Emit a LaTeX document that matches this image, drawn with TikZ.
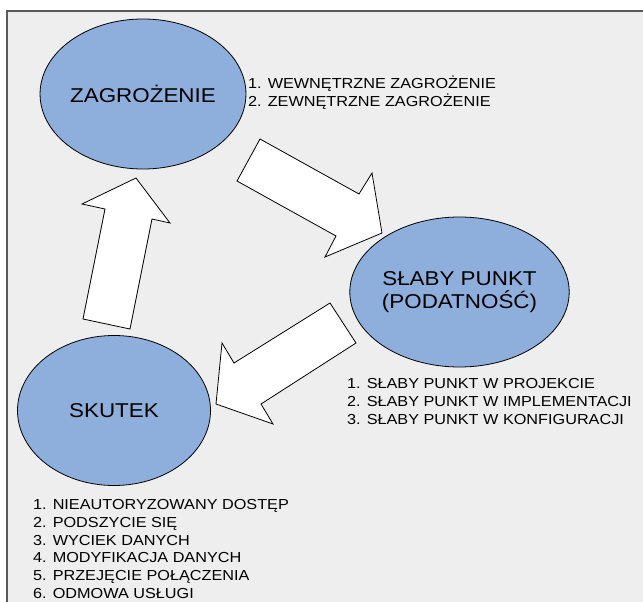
\documentclass[tikz,border=0pt]{standalone}
\usepackage{fontspec}
\setmainfont{Liberation Sans}
\newfontfamily\lblfont{Liberation Sans}[FakeStretch=1.12]
\usepackage{xcolor}
\usepackage{tikz}
\usetikzlibrary{shapes.geometric}
\definecolor{cBack}{HTML}{EEEEEE}
\definecolor{cFrame}{HTML}{5A5A5A}
\definecolor{cBubble}{HTML}{8EAEDC}

\begin{document}
\begin{tikzpicture}[
    x=1pt, y=-1pt,
    bubble/.style={ellipse, draw=black, fill=cBubble, line width=0.8pt,
                   minimum width=193pt, minimum height=150pt, inner sep=0pt,
                   align=center, font=\lblfont\fontsize{20}{23}\selectfont},
    blockarrow/.style={draw=black, fill=white, line width=0.8pt, line join=miter},
    list/.style={anchor=west, align=left, inner sep=0pt,
                 font=\lblfont\fontsize{14.5}{17.7}\selectfont}
]
\clip (0,0) rectangle (643,602);
\useasboundingbox (0,0) rectangle (643,602);

% --- background ---
\fill[white] (0,0) rectangle (643,602);
\draw[cFrame, fill=cBack, line width=1.2pt] (7,11) rectangle (660,620);

% --- cycle ---
\node[bubble] (threat) at (143,94) {ZAGROŻENIE};
\node[bubble] (weak) at (459.5,292) {SŁABY PUNKT\\(PODATNOŚĆ)};
\node[bubble] (effect) at (114,410.5) {SKUTEK};

% --- lists ---
\node[list] (threatlist) at (248,92.5)
  {1. WEWNĘTRZNE ZAGROŻENIE\\2. ZEWNĘTRZNE ZAGROŻENIE};
\node[list] (weaklist) at (347,401.5)
  {1. SŁABY PUNKT W PROJEKCIE\\2. SŁABY PUNKT W IMPLEMENTACJI\\
   3. SŁABY PUNKT W KONFIGURACJI};
\node[list] (effectlist) at (33,549)
  {1. NIEAUTORYZOWANY DOSTĘP\\2. PODSZYCIE SIĘ\\3. WYCIEK DANYCH\\
   4. MODYFIKACJA DANYCH\\5. PRZEJĘCIE POŁĄCZENIA\\6. ODMOWA USŁUGI};

% --- block arrows ---
% threat -> weak
\draw[blockarrow] (260,139) -- (359,194) -- (372,173) -- (382,233)
  -- (325,257) -- (336,236) -- (237,181) -- cycle;
% weak -> effect
\draw[blockarrow] (330,303) -- (234,363) -- (222,343) -- (216,404)
  -- (273,424) -- (261,404) -- (356,343) -- cycle;
% effect -> threat
\draw[blockarrow] (83,319) -- (105,209) -- (82,204) -- (136,178)
  -- (170,223) -- (152,219) -- (130,329) -- cycle;

\end{tikzpicture}
\end{document}
